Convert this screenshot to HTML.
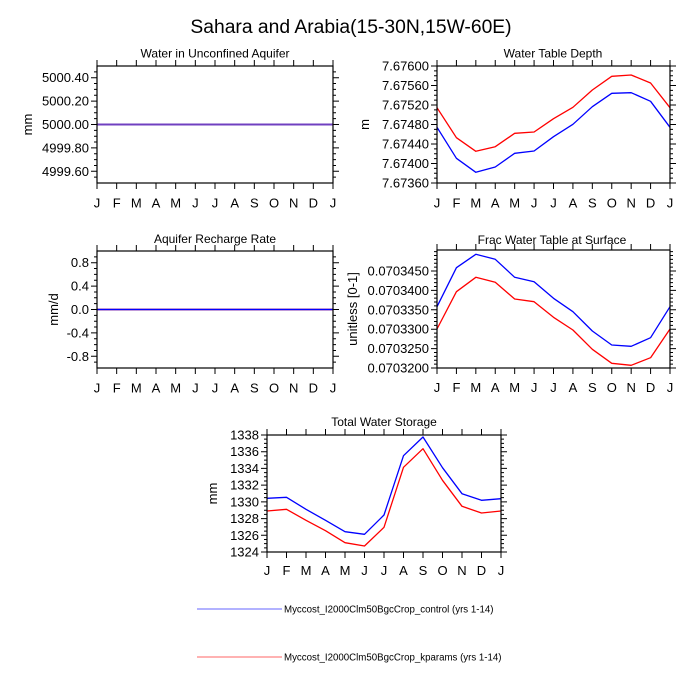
<!DOCTYPE html>
<html><head><meta charset="utf-8"><style>
html,body{margin:0;padding:0;background:#fff;}
svg{display:block;}
text{font-family:"Liberation Sans",Arial,sans-serif;fill:#000;}
.tl{font-size:13px;text-anchor:end;}
.mo{font-size:13px;text-anchor:middle;}
.pt{font-size:12px;text-anchor:middle;}
.ax{font-size:13px;text-anchor:middle;}
.bd{fill:none;stroke:#000;stroke-width:1.2;}
.tk{fill:none;stroke:#000;stroke-width:1;}
.bl{fill:none;stroke:#0000ff;stroke-width:1.3;stroke-linejoin:round;}
.rd{fill:none;stroke:#ff0000;stroke-width:1.3;stroke-linejoin:round;}
</style></head><body>
<svg width="700" height="700" viewBox="0 0 700 700" xmlns="http://www.w3.org/2000/svg">
<rect width="700" height="700" fill="#fff"/>
<text x="351" y="33" style="font-size:19.3px;text-anchor:middle">Sahara and Arabia(15-30N,15W-60E)</text>

<!-- Panel A -->
<text class="pt" x="215" y="57.5">Water in Unconfined Aquifer</text>
<line x1="97" y1="124.5" x2="333" y2="124.5" stroke="#7040c0" stroke-width="2"/>
<rect class="bd" x="97" y="66" width="236" height="117"/>
<path class="tk" d="M97 66v-6M116.67 66v-6M136.33 66v-6M156 66v-6M175.67 66v-6M195.33 66v-6M215 66v-6M234.67 66v-6M254.33 66v-6M274 66v-6M293.67 66v-6M313.33 66v-6M333 66v-6
M97 183v6M116.67 183v6M136.33 183v6M156 183v6M175.67 183v6M195.33 183v6M215 183v6M234.67 183v6M254.33 183v6M274 183v6M293.67 183v6M313.33 183v6M333 183v6
M97 77.7h-6M97 101.1h-6M97 124.5h-6M97 147.9h-6M97 171.3h-6
M333 77.7h6M333 101.1h6M333 124.5h6M333 147.9h6M333 171.3h6
M97 71.85h-3M97 83.55h-3M97 89.4h-3M97 95.25h-3M97 106.95h-3M97 112.8h-3M97 118.65h-3M97 130.35h-3M97 136.2h-3M97 142.05h-3M97 153.75h-3M97 159.6h-3M97 165.45h-3M97 177.15h-3
M333 71.85h3M333 83.55h3M333 89.4h3M333 95.25h3M333 106.95h3M333 112.8h3M333 118.65h3M333 130.35h3M333 136.2h3M333 142.05h3M333 153.75h3M333 159.6h3M333 165.45h3M333 177.15h3"/>
<text class="tl" x="89" y="82.2">5000.40</text>
<text class="tl" x="89" y="105.6">5000.20</text>
<text class="tl" x="89" y="129">5000.00</text>
<text class="tl" x="89" y="152.4">4999.80</text>
<text class="tl" x="89" y="175.8">4999.60</text>
<text class="ax" transform="translate(32,124.5) rotate(-90)">mm</text>
<g class="mo">
<text class="mo" x="97" y="207.5">J</text><text class="mo" x="116.67" y="207.5">F</text><text class="mo" x="136.33" y="207.5">M</text><text class="mo" x="156" y="207.5">A</text><text class="mo" x="175.67" y="207.5">M</text><text class="mo" x="195.33" y="207.5">J</text><text class="mo" x="215" y="207.5">J</text><text class="mo" x="234.67" y="207.5">A</text><text class="mo" x="254.33" y="207.5">S</text><text class="mo" x="274" y="207.5">O</text><text class="mo" x="293.67" y="207.5">N</text><text class="mo" x="313.33" y="207.5">D</text><text class="mo" x="333" y="207.5">J</text>
</g>

<!-- Panel B -->
<text class="pt" x="553" y="57.5">Water Table Depth</text>
<polyline class="rd" points="437,107.7 456.42,137.7 475.83,151.3 495.25,146.7 514.67,133.3 534.08,132 553.5,118.7 572.92,107.3 592.33,90 611.75,76.3 631.17,75 650.58,83 670,107.7"/>
<polyline class="bl" points="437,127.3 456.42,158.3 475.83,172.3 495.25,167 514.67,153.3 534.08,151 553.5,136.7 572.92,124.3 592.33,106.7 611.75,93.3 631.17,92.7 650.58,101.3 670,127.3"/>
<rect class="bd" x="437" y="66" width="233" height="117"/>
<path class="tk" d="M437 66v-6M456.42 66v-6M475.83 66v-6M495.25 66v-6M514.67 66v-6M534.08 66v-6M553.5 66v-6M572.92 66v-6M592.33 66v-6M611.75 66v-6M631.17 66v-6M650.58 66v-6M670 66v-6
M437 183v6M456.42 183v6M475.83 183v6M495.25 183v6M514.67 183v6M534.08 183v6M553.5 183v6M572.92 183v6M592.33 183v6M611.75 183v6M631.17 183v6M650.58 183v6M670 183v6
M437 66h-6M437 85.5h-6M437 105h-6M437 124.5h-6M437 144h-6M437 163.5h-6M437 183h-6
M670 66h6M670 85.5h6M670 105h6M670 124.5h6M670 144h6M670 163.5h6M670 183h6
M437 70.875h-3M437 75.75h-3M437 80.625h-3M437 90.375h-3M437 95.25h-3M437 100.125h-3M437 109.875h-3M437 114.75h-3M437 119.625h-3M437 129.375h-3M437 134.25h-3M437 139.125h-3M437 148.875h-3M437 153.75h-3M437 158.625h-3M437 168.375h-3M437 173.25h-3M437 178.125h-3
M670 70.875h3M670 75.75h3M670 80.625h3M670 90.375h3M670 95.25h3M670 100.125h3M670 109.875h3M670 114.75h3M670 119.625h3M670 129.375h3M670 134.25h3M670 139.125h3M670 148.875h3M670 153.75h3M670 158.625h3M670 168.375h3M670 173.25h3M670 178.125h3"/>
<text class="tl" x="429" y="70.5">7.67600</text>
<text class="tl" x="429" y="90">7.67560</text>
<text class="tl" x="429" y="109.5">7.67520</text>
<text class="tl" x="429" y="129">7.67480</text>
<text class="tl" x="429" y="148.5">7.67440</text>
<text class="tl" x="429" y="168">7.67400</text>
<text class="tl" x="429" y="187.5">7.67360</text>
<text class="ax" transform="translate(369,124.5) rotate(-90)">m</text>
<text class="mo" x="437" y="207.5">J</text><text class="mo" x="456.42" y="207.5">F</text><text class="mo" x="475.83" y="207.5">M</text><text class="mo" x="495.25" y="207.5">A</text><text class="mo" x="514.67" y="207.5">M</text><text class="mo" x="534.08" y="207.5">J</text><text class="mo" x="553.5" y="207.5">J</text><text class="mo" x="572.92" y="207.5">A</text><text class="mo" x="592.33" y="207.5">S</text><text class="mo" x="611.75" y="207.5">O</text><text class="mo" x="631.17" y="207.5">N</text><text class="mo" x="650.58" y="207.5">D</text><text class="mo" x="670" y="207.5">J</text>

<!-- Panel C -->
<text class="pt" x="215" y="243">Aquifer Recharge Rate</text>
<line x1="97" y1="309.5" x2="333" y2="309.5" stroke="#ff0000" stroke-width="2.6" stroke-opacity="0.3"/>
<line x1="97" y1="309.5" x2="333" y2="309.5" stroke="#0000ff" stroke-width="1.4"/>
<rect class="bd" x="97" y="251" width="236" height="117"/>
<path class="tk" d="M97 251v-6M116.67 251v-6M136.33 251v-6M156 251v-6M175.67 251v-6M195.33 251v-6M215 251v-6M234.67 251v-6M254.33 251v-6M274 251v-6M293.67 251v-6M313.33 251v-6M333 251v-6
M97 368v6M116.67 368v6M136.33 368v6M156 368v6M175.67 368v6M195.33 368v6M215 368v6M234.67 368v6M254.33 368v6M274 368v6M293.67 368v6M313.33 368v6M333 368v6
M97 262.7h-6M97 286.1h-6M97 309.5h-6M97 332.9h-6M97 356.3h-6
M333 262.7h6M333 286.1h6M333 309.5h6M333 332.9h6M333 356.3h6
M97 256.85h-3M97 268.55h-3M97 274.4h-3M97 280.25h-3M97 291.95h-3M97 297.8h-3M97 303.65h-3M97 315.35h-3M97 321.2h-3M97 327.05h-3M97 338.75h-3M97 344.6h-3M97 350.45h-3M97 362.15h-3
M333 256.85h3M333 268.55h3M333 274.4h3M333 280.25h3M333 291.95h3M333 297.8h3M333 303.65h3M333 315.35h3M333 321.2h3M333 327.05h3M333 338.75h3M333 344.6h3M333 350.45h3M333 362.15h3"/>
<text class="tl" x="89" y="267.2">0.8</text>
<text class="tl" x="89" y="290.6">0.4</text>
<text class="tl" x="89" y="314">0.0</text>
<text class="tl" x="89" y="337.4">-0.4</text>
<text class="tl" x="89" y="360.8">-0.8</text>
<text class="ax" transform="translate(58,309.5) rotate(-90)">mm/d</text>
<text class="mo" x="97" y="392.5">J</text><text class="mo" x="116.67" y="392.5">F</text><text class="mo" x="136.33" y="392.5">M</text><text class="mo" x="156" y="392.5">A</text><text class="mo" x="175.67" y="392.5">M</text><text class="mo" x="195.33" y="392.5">J</text><text class="mo" x="215" y="392.5">J</text><text class="mo" x="234.67" y="392.5">A</text><text class="mo" x="254.33" y="392.5">S</text><text class="mo" x="274" y="392.5">O</text><text class="mo" x="293.67" y="392.5">N</text><text class="mo" x="313.33" y="392.5">D</text><text class="mo" x="333" y="392.5">J</text>

<!-- Panel D -->
<text class="pt" x="552" y="244">Frac Water Table at Surface</text>
<polyline class="rd" points="437,329 456.42,291.7 475.83,277.3 495.25,282.3 514.67,299 534.08,301.7 553.5,317.3 572.92,330 592.33,349.3 611.75,363.3 631.17,365.3 650.58,357.7 670,329"/>
<polyline class="bl" points="437,306.7 456.42,267.7 475.83,254.3 495.25,259.3 514.67,277.3 534.08,281.7 553.5,298.3 572.92,311.7 592.33,331 611.75,345 631.17,346.3 650.58,337.7 670,306.7"/>
<rect class="bd" x="437" y="250" width="233" height="118"/>
<path class="tk" d="M437 250v-6M456.42 250v-6M475.83 250v-6M495.25 250v-6M514.67 250v-6M534.08 250v-6M553.5 250v-6M572.92 250v-6M592.33 250v-6M611.75 250v-6M631.17 250v-6M650.58 250v-6M670 250v-6
M437 368v6M456.42 368v6M475.83 368v6M495.25 368v6M514.67 368v6M534.08 368v6M553.5 368v6M572.92 368v6M592.33 368v6M611.75 368v6M631.17 368v6M650.58 368v6M670 368v6
M437 271h-6M437 290.4h-6M437 309.8h-6M437 329.2h-6M437 348.6h-6M437 368h-6
M670 271h6M670 290.4h6M670 309.8h6M670 329.2h6M670 348.6h6M670 368h6
M437 364.12h-3M437 360.24h-3M437 356.36h-3M437 352.48h-3M437 344.72h-3M437 340.84h-3M437 336.96h-3M437 333.08h-3M437 325.32h-3M437 321.44h-3M437 317.56h-3M437 313.68h-3M437 305.92h-3M437 302.04h-3M437 298.16h-3M437 294.28h-3M437 286.52h-3M437 282.64h-3M437 278.76h-3M437 274.88h-3M437 267.12h-3M437 263.24h-3M437 259.36h-3M437 255.48h-3M437 251.6h-3
M670 364.12h3M670 360.24h3M670 356.36h3M670 352.48h3M670 344.72h3M670 340.84h3M670 336.96h3M670 333.08h3M670 325.32h3M670 321.44h3M670 317.56h3M670 313.68h3M670 305.92h3M670 302.04h3M670 298.16h3M670 294.28h3M670 286.52h3M670 282.64h3M670 278.76h3M670 274.88h3M670 267.12h3M670 263.24h3M670 259.36h3M670 255.48h3M670 251.6h3"/>
<text class="tl" x="429" y="275.5">0.0703450</text>
<text class="tl" x="429" y="294.9">0.0703400</text>
<text class="tl" x="429" y="314.3">0.0703350</text>
<text class="tl" x="429" y="333.7">0.0703300</text>
<text class="tl" x="429" y="353.1">0.0703250</text>
<text class="tl" x="429" y="372.5">0.0703200</text>
<text class="ax" transform="translate(357,309) rotate(-90)">unitless [0-1]</text>
<text class="mo" x="437" y="392">J</text><text class="mo" x="456.42" y="392">F</text><text class="mo" x="475.83" y="392">M</text><text class="mo" x="495.25" y="392">A</text><text class="mo" x="514.67" y="392">M</text><text class="mo" x="534.08" y="392">J</text><text class="mo" x="553.5" y="392">J</text><text class="mo" x="572.92" y="392">A</text><text class="mo" x="592.33" y="392">S</text><text class="mo" x="611.75" y="392">O</text><text class="mo" x="631.17" y="392">N</text><text class="mo" x="650.58" y="392">D</text><text class="mo" x="670" y="392">J</text>

<!-- Panel E -->
<text class="pt" x="384" y="426">Total Water Storage</text>
<polyline class="rd" points="267,511 286.5,509.3 306,520.3 325.5,530.7 345,542.7 364.5,546 384,527.3 403.5,467.3 423,448.7 442.5,480.3 462,506.3 481.5,513 501,511"/>
<polyline class="bl" points="267,498.3 286.5,497.3 306,509.3 325.5,520.3 345,531.7 364.5,534.3 384,515 403.5,455.7 423,437 442.5,467.7 462,493.7 481.5,500.3 501,498.7"/>
<rect class="bd" x="267" y="435" width="234" height="117"/>
<path class="tk" d="M267 435v-6M286.5 435v-6M306 435v-6M325.5 435v-6M345 435v-6M364.5 435v-6M384 435v-6M403.5 435v-6M423 435v-6M442.5 435v-6M462 435v-6M481.5 435v-6M501 435v-6
M267 552v6M286.5 552v6M306 552v6M325.5 552v6M345 552v6M364.5 552v6M384 552v6M403.5 552v6M423 552v6M442.5 552v6M462 552v6M481.5 552v6M501 552v6
M267 435h-6M267 451.71h-6M267 468.43h-6M267 485.14h-6M267 501.86h-6M267 518.57h-6M267 535.29h-6M267 552h-6
M501 435h6M501 451.71h6M501 468.43h6M501 485.14h6M501 501.86h6M501 518.57h6M501 535.29h6M501 552h6
M267 439.18h-3M267 443.36h-3M267 447.54h-3M267 455.89h-3M267 460.07h-3M267 464.25h-3M267 472.61h-3M267 476.79h-3M267 480.96h-3M267 489.32h-3M267 493.5h-3M267 497.68h-3M267 506.04h-3M267 510.21h-3M267 514.39h-3M267 522.75h-3M267 526.93h-3M267 531.11h-3M267 539.46h-3M267 543.64h-3M267 547.82h-3
M501 439.18h3M501 443.36h3M501 447.54h3M501 455.89h3M501 460.07h3M501 464.25h3M501 472.61h3M501 476.79h3M501 480.96h3M501 489.32h3M501 493.5h3M501 497.68h3M501 506.04h3M501 510.21h3M501 514.39h3M501 522.75h3M501 526.93h3M501 531.11h3M501 539.46h3M501 543.64h3M501 547.82h3"/>
<text class="tl" x="259" y="439.5">1338</text>
<text class="tl" x="259" y="456.2">1336</text>
<text class="tl" x="259" y="472.9">1334</text>
<text class="tl" x="259" y="489.6">1332</text>
<text class="tl" x="259" y="506.4">1330</text>
<text class="tl" x="259" y="523.1">1328</text>
<text class="tl" x="259" y="539.8">1326</text>
<text class="tl" x="259" y="556.5">1324</text>
<text class="ax" transform="translate(217,493.5) rotate(-90)">mm</text>
<text class="mo" x="267" y="575">J</text><text class="mo" x="286.5" y="575">F</text><text class="mo" x="306" y="575">M</text><text class="mo" x="325.5" y="575">A</text><text class="mo" x="345" y="575">M</text><text class="mo" x="364.5" y="575">J</text><text class="mo" x="384" y="575">J</text><text class="mo" x="403.5" y="575">A</text><text class="mo" x="423" y="575">S</text><text class="mo" x="442.5" y="575">O</text><text class="mo" x="462" y="575">N</text><text class="mo" x="481.5" y="575">D</text><text class="mo" x="501" y="575">J</text>

<!-- Legend -->
<line x1="197" y1="609" x2="282" y2="609" stroke="#0000ff" stroke-width="1" stroke-opacity="0.6"/>
<text x="284" y="612.5" style="font-size:9.7px">Myccost_I2000Clm50BgcCrop_control (yrs 1-14)</text>
<line x1="197" y1="657" x2="282" y2="657" stroke="#ff0000" stroke-width="1" stroke-opacity="0.6"/>
<text x="284" y="660.5" style="font-size:9.7px">Myccost_I2000Clm50BgcCrop_kparams (yrs 1-14)</text>
</svg>
</body></html>
